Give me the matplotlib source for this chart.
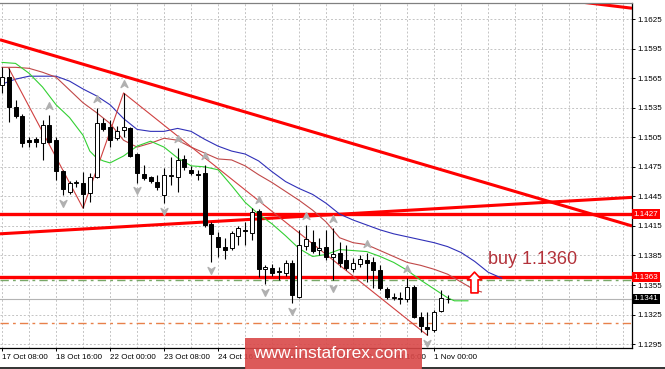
import numpy as np
import matplotlib
matplotlib.use('Agg')
import matplotlib.pyplot as plt
import matplotlib.transforms as mtransforms
from matplotlib.path import Path
from matplotlib.patches import Rectangle
from matplotlib.lines import Line2D

plt.rcParams['font.family'] = ['Liberation Sans', 'DejaVu Sans']

# EURUSD H4 candles, bar 0 = 17 Oct 08:00
opens = [1.1558, 1.1566, 1.1536, 1.1527, 1.1502, 1.1503, 1.1499, 1.1517, 1.1502, 1.1471,
         1.1449, 1.1459, 1.1459, 1.1448, 1.1465, 1.1519, 1.1515, 1.1504, 1.1512, 1.1514,
         1.1488, 1.1468, 1.1465, 1.1460, 1.1446, 1.1466, 1.1465, 1.1483, 1.1472, 1.1468,
         1.1469, 1.1417, 1.1404, 1.1394, 1.1393, 1.1405, 1.1411, 1.1408, 1.1430, 1.1371,
         1.1372, 1.1369, 1.1367, 1.1377, 1.1343, 1.1395, 1.1399, 1.1391, 1.1394, 1.1383,
         1.1388, 1.1380, 1.1371, 1.1376, 1.1380, 1.1378, 1.1370, 1.1351, 1.1342, 1.1342,
         1.1341, 1.1353, 1.1323, 1.1312, 1.1309, 1.1329, 1.1341]
highs = [1.1576, 1.1575, 1.1543, 1.1529, 1.1505, 1.1505, 1.1523, 1.1528, 1.1505, 1.1472,
         1.1461, 1.1462, 1.1470, 1.1469, 1.1535, 1.1525, 1.1523, 1.1516, 1.1550, 1.1515,
         1.1489, 1.1477, 1.1466, 1.1467, 1.1474, 1.1485, 1.1494, 1.1487, 1.1476, 1.1472,
         1.1477, 1.1419, 1.1409, 1.1403, 1.1410, 1.1415, 1.1419, 1.1433, 1.1432, 1.1375,
         1.1376, 1.1373, 1.1380, 1.1380, 1.1411, 1.1416, 1.1411, 1.1403, 1.1411, 1.1413,
         1.1399, 1.1396, 1.1382, 1.1386, 1.1388, 1.1383, 1.1375, 1.1353, 1.1347, 1.1348,
         1.1362, 1.1355, 1.1328, 1.1328, 1.1330, 1.1350, 1.1345]
lows = [1.1550, 1.1520, 1.1525, 1.1495, 1.1495, 1.1495, 1.1482, 1.1499, 1.1462, 1.1446,
        1.1447, 1.1455, 1.1433, 1.1439, 1.1464, 1.1511, 1.1495, 1.1502, 1.1505, 1.1485,
        1.1459, 1.1462, 1.1459, 1.1451, 1.1438, 1.1457, 1.1449, 1.1472, 1.1467, 1.1462,
        1.1414, 1.1378, 1.1383, 1.1381, 1.1391, 1.1396, 1.1396, 1.1401, 1.1363, 1.1356,
        1.1364, 1.1360, 1.1364, 1.1337, 1.1342, 1.1391, 1.1388, 1.1386, 1.1380, 1.1360,
        1.1373, 1.1370, 1.1368, 1.1373, 1.1358, 1.1352, 1.1350, 1.1341, 1.1340, 1.1336,
        1.1338, 1.1322, 1.1307, 1.1304, 1.1307, 1.1328, 1.1337]
closes = [1.1566, 1.1536, 1.1527, 1.1499, 1.1500, 1.1500, 1.1517, 1.1500, 1.1471, 1.1453,
          1.1459, 1.1460, 1.1447, 1.1465, 1.1519, 1.1513, 1.1502, 1.1511, 1.1515, 1.1486,
          1.1469, 1.1464, 1.1461, 1.1455, 1.1467, 1.1467, 1.1482, 1.1475, 1.1469, 1.1467,
          1.1416, 1.1407, 1.1394, 1.1391, 1.1408, 1.1413, 1.1410, 1.1429, 1.1371, 1.1373,
          1.1367, 1.1368, 1.1377, 1.1345, 1.1396, 1.1402, 1.1390, 1.1393, 1.1383, 1.1387,
          1.1377, 1.1372, 1.1377, 1.1381, 1.1377, 1.1370, 1.1352, 1.1343, 1.1343, 1.1341,
          1.1353, 1.1323, 1.1313, 1.1310, 1.1328, 1.1342, 1.1341]

# Alligator lines (bar index, price)
jaw_idx = [0, 2, 4, 6, 8, 10, 12, 14, 16, 18, 20, 22, 24, 26, 28, 30, 32, 34, 36, 38,
           40, 42, 44, 46, 48, 50, 52, 54, 56, 58, 60, 62, 64, 66, 68, 70, 72, 74]
jaw_val = [1.1559, 1.1564, 1.1567, 1.1567, 1.1567, 1.1562, 1.1554, 1.1547, 1.1538, 1.1524,
           1.1513, 1.1511, 1.1511, 1.1514, 1.1511, 1.1503, 1.1496, 1.1491, 1.1488, 1.1481,
           1.1470, 1.1460, 1.1453, 1.1447, 1.1438, 1.1427, 1.1421, 1.1416, 1.1411, 1.1407,
           1.1404, 1.1401, 1.1398, 1.1394, 1.1388, 1.1379, 1.1368, 1.1362]
teeth_idx = [0, 2, 4, 6, 8, 10, 12, 14, 16, 18, 20, 22, 24, 26, 28, 30, 32, 34, 36, 38,
             40, 42, 44, 46, 48, 50, 52, 54, 56, 58, 60, 62, 64, 66, 68, 70, 71]
teeth_val = [1.1576, 1.1576, 1.1575, 1.1571, 1.1566, 1.1553, 1.1540, 1.1530, 1.1519, 1.1502,
             1.1495, 1.1499, 1.1504, 1.1502, 1.1495, 1.1489, 1.1483, 1.1482, 1.1476, 1.1467,
             1.1459, 1.1450, 1.1441, 1.1431, 1.1419, 1.1403, 1.1398, 1.1396, 1.1390, 1.1384,
             1.1378, 1.1375, 1.1371, 1.1366, 1.1358, 1.1350, 1.1348]
lips_idx = [0, 2, 4, 6, 8, 10, 12, 13, 14, 15, 16, 18, 20, 22, 24, 26, 28, 30, 32, 34,
            36, 38, 40, 42, 44, 46, 48, 50, 52, 54, 56, 58, 60, 62, 64, 66, 67, 69]
lips_val = [1.1581, 1.1580, 1.1570, 1.1556, 1.1538, 1.1525, 1.1507, 1.1491, 1.1484, 1.1481,
            1.1479, 1.1486, 1.1496, 1.1501, 1.1495, 1.1484, 1.1476, 1.1475, 1.1472, 1.1456,
            1.1439, 1.1427, 1.1417, 1.1405, 1.1392, 1.1384, 1.1386, 1.1391, 1.1390, 1.1389,
            1.1384, 1.1378, 1.1370, 1.1360, 1.1351, 1.1342, 1.1339, 1.1339]

zigzag_idx = [1, 12, 18, 63]
fractal_up = [7, 14, 18, 26, 30, 38, 45, 49, 54, 60]
fractal_dn = [9, 20, 24, 31, 39, 43, 49, 63]

# drawn objects
levels = [1.1427, 1.1363]
buy_level = 1.1360
take_level = 1.1316
bid = 1.1341
trend_down = ([-0.3, 93.3], [1.1604, 1.1415])
trend_up = ([-0.3, 93.3], [1.1407, 1.1444])
trend_top = ([86.1, 93.3], [1.1642, 1.1636])
signal_bar = 69.85
signal_price = 1.1358

tick_pos = [0, 8, 16, 24, 32, 40, 48, 56, 64]
tick_lbl = ['17 Oct 08:00', '18 Oct 16:00', '22 Oct 00:00', '23 Oct 08:00',
            '24 Oct 16:00', '26 Oct 00:00', '29 Oct 08:00', '30 Oct 16:00', '1 Nov 00:00']
price_ticks = [1.1295, 1.1325, 1.1355, 1.1385, 1.1415, 1.1445, 1.1475, 1.1505,
               1.1535, 1.1565, 1.1595, 1.1625]

W, H = 665, 369
fig = plt.figure(figsize=(W / 100, H / 100), dpi=100)
ax = fig.add_axes([0, 1 - 348 / H, 632 / W, 345 / H])
ax.set_xlim(-0.3, 93.3)
ax.set_ylim(1.12911, 1.16413)

# grid
for gx in range(0, 93, 4):
    ax.axvline(gx, color='#c4c4c4', lw=0.7, ls=(0, (2, 2)), zorder=0)
for gy in price_ticks:
    ax.axhline(gy, color='#c4c4c4', lw=0.7, ls=(0, (2, 2)), zorder=0)

# horizontal levels and trendlines
ax.axhline(take_level, color='#e8804a', lw=1.0, ls=(0, (6, 3, 2, 3)), zorder=1)
ax.axhline(bid, color='#b4b4b4', lw=0.8, zorder=1)
ax.axhline(buy_level, color='#78a868', lw=1.0, ls=(0, (6, 3, 2, 3)), zorder=1)
for lv in levels:
    ax.axhline(lv, color='#ff0000', lw=2.4, zorder=2)
for tx, ty in (trend_down, trend_up, trend_top):
    ax.plot(tx, ty, color='#ff0000', lw=2.2, zorder=2, solid_capstyle='butt')

# alligator + zigzag
ax.plot(jaw_idx, jaw_val, color='#3030b8', lw=0.8, zorder=3)
ax.plot(teeth_idx, teeth_val, color='#c04848', lw=0.8, zorder=3)
ax.plot(lips_idx, lips_val, color='#33d033', lw=0.8, zorder=3)
zz_val = [highs[1], lows[12], highs[18], lows[63]]
ax.plot(zigzag_idx, zz_val, color='#d04040', lw=0.8, zorder=3)

# candles
o = np.array(opens)
c = np.array(closes)
x = np.arange(len(o))
ax.vlines(x, lows, highs, color='black', lw=0.8, zorder=4)
bull = c >= o
body_lo = np.minimum(o, c)
body_h = np.maximum(np.abs(c - o), 0.00003)
ax.bar(x[bull], body_h[bull], bottom=body_lo[bull], width=0.6,
       color='white', edgecolor='black', lw=0.7, zorder=5)
ax.bar(x[~bull], body_h[~bull], bottom=body_lo[~bull], width=0.6,
       color='black', edgecolor='black', lw=0.7, zorder=5)

# fractal arrows
head = Path([(0, 0.5), (0.45, -0.4), (0, -0.1), (-0.45, -0.4), (0, 0.5)],
            [Path.MOVETO, Path.LINETO, Path.LINETO, Path.LINETO, Path.CLOSEPOLY])
head_dn = Path(head.vertices * [1, -1], head.codes)
hi = np.array(highs)
lo = np.array(lows)
ax.plot(fractal_up, hi[fractal_up] + 0.0009, ls='none', marker=head, ms=5.5,
        color='#b0b0b0', zorder=6)
ax.plot(fractal_dn, lo[fractal_dn] - 0.0008, ls='none', marker=head_dn, ms=5.5,
        color='#b0b0b0', zorder=6)

# signal arrow and text
arrow = Path([(0, 0.5), (0.34, 0.13), (0.17, 0.13), (0.17, -0.5), (-0.17, -0.5),
              (-0.17, 0.13), (-0.34, 0.13), (0, 0.5)],
             [Path.MOVETO] + [Path.LINETO] * 6 + [Path.CLOSEPOLY])
ax.plot([signal_bar], [signal_price], ls='none', marker=arrow, ms=15,
        mfc='white', mec='#ff0000', mew=1.2, zorder=7)
ax.text(72, 1.1381, 'buy 1.1360', fontsize=13, color='#b3323a',
        ha='left', va='center', zorder=8)

# axes styling
ax.spines['left'].set_visible(False)
ax.spines['top'].set_color('#808080')
ax.spines['right'].set_color('black')
ax.spines['bottom'].set_color('black')
for s in ('top', 'right', 'bottom'):
    ax.spines[s].set_linewidth(0.9)
ax.yaxis.tick_right()
ax.set_yticks(price_ticks)
ax.set_yticklabels([f'{p:.4f}' for p in price_ticks])
ax.set_xticks(tick_pos)
ax.set_xticklabels(tick_lbl)
for lab in ax.get_xticklabels():
    lab.set_horizontalalignment('left')
ax.tick_params(axis='both', labelsize=5.8, length=2.2, width=0.7, pad=2,
               colors='black')

# price tags on the right axis
tr = mtransforms.blended_transform_factory(ax.transAxes, ax.transData)
for val, bg in ((levels[0], '#ff0000'), (levels[1], '#ff0000'), (bid, 'black')):
    ax.text(1.003, val, f'{val:.4f}', transform=tr, fontsize=5.8, color='white',
            ha='left', va='center', zorder=10, clip_on=False,
            bbox=dict(facecolor=bg, edgecolor='none', pad=1.2))

# watermark (covers the middle date labels, as in the original screenshot)
fig.add_artist(Rectangle((245 / W, 0), 177 / W, 31 / H, transform=fig.transFigure,
                         facecolor='#d94848', edgecolor='none', alpha=0.9, zorder=20))
fig.text(253 / W, 15 / H, 'www.instaforex.com', color='white', fontsize=12.5,
         ha='left', va='center', zorder=21)
fig.add_artist(Line2D([0, 245 / W], [1.5 / H, 1.5 / H], transform=fig.transFigure,
                      color='#222222', lw=1.3))
fig.add_artist(Line2D([422 / W, 1], [1.5 / H, 1.5 / H], transform=fig.transFigure,
                      color='#222222', lw=1.3))

fig.savefig('out.png', dpi=100)
